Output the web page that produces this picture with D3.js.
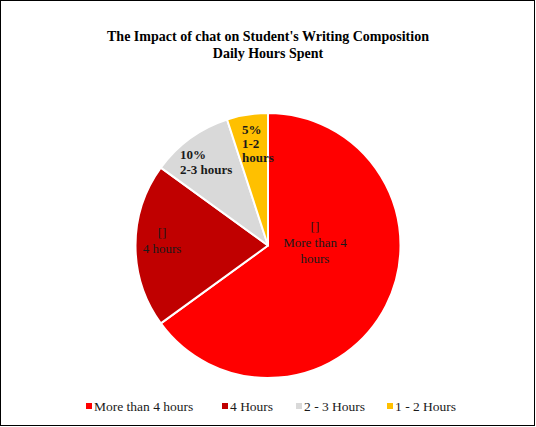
<!DOCTYPE html>
<html><head><meta charset="utf-8">
<script src="https://cdn.jsdelivr.net/npm/d3@7"></script>
<style>html,body{margin:0;padding:0;background:#fff;}svg{display:block;}</style>
</head><body>
<script>
const categories = ["More than 4 hours", "4 Hours", "2 - 3 Hours", "1 - 2 Hours"];
const values = [65, 20, 10, 5];
const colors = ["#FF0000", "#C00000", "#D9D9D9", "#FFC000"];
const labelLines = [["[]", "More than 4", "hours"], ["[]", "4 hours"], ["10%", "2-3 hours"], ["5%", "1-2", "hours"]];
const labelBold = [false, false, true, true];
const titleLines = ["The Impact of chat on Student's Writing Composition", "Daily Hours Spent"];

const W = 536, H = 427;
const font = "'Liberation Serif', 'DejaVu Serif', serif";
const svg = d3.select("body").append("svg").attr("width", W).attr("height", H);
svg.append("rect").attr("x", 0.5).attr("y", 0.5).attr("width", W - 2).attr("height", H - 2)
  .attr("fill", "#fff").attr("stroke", "#000").attr("stroke-width", 1);

svg.append("g").selectAll("text").data(titleLines).join("text")
  .attr("x", 268).attr("y", (d, i) => 41 + i * 17)
  .attr("text-anchor", "middle").attr("font-family", font).attr("font-weight", "bold")
  .attr("font-size", 14).attr("fill", "#000").text(d => d);

const cx = 268, cy = 245.5, R = 132.5;
const pie = d3.pie().sort(null).value(d => d);
const arcs = pie(values);
const arc = d3.arc().innerRadius(0).outerRadius(R);
const g = svg.append("g").attr("transform", `translate(${cx},${cy})`);
g.selectAll("path").data(arcs).join("path")
  .attr("d", arc).attr("fill", (d, i) => colors[i])
  .attr("stroke", "#fff").attr("stroke-width", 2).attr("stroke-linejoin", "round");

// label placement: centroid on a label ring, then nudge
const labelRadius = [0.55, 0.72, 0.8, 0.87];
const nudge = [[-18, -36.5], [-10.6, -5.5], [-25.7, 1.8], [-8, 11.4]];
const lineH = [16, 16, 15, 14];
const anchors = ["middle", "middle", "start", "start"];
arcs.forEach((a, i) => {
  const la = d3.arc().innerRadius(R * labelRadius[i]).outerRadius(R * labelRadius[i]);
  const c = la.centroid(a);
  const lines = labelLines[i];
  const x0 = c[0] + nudge[i][0], y0 = c[1] + nudge[i][1];
  const t = g.append("text").attr("text-anchor", anchors[i]).attr("font-family", font)
    .attr("font-size", 13).attr("font-weight", labelBold[i] ? "bold" : "normal").attr("fill", "#1a1a1a");
  lines.forEach((ln, j) => {
    t.append("tspan").attr("x", x0).attr("y", y0 + (j - (lines.length - 1) / 2) * lineH[i] + 4.5).text(ln);
  });
});

// legend
const legX = [86, 222, 296, 387];
const leg = svg.append("g");
categories.forEach((c, i) => {
  leg.append("rect").attr("x", legX[i]).attr("y", 403).attr("width", 6).attr("height", 6).attr("fill", colors[i]);
  leg.append("text").attr("x", legX[i] + 8).attr("y", 411).attr("font-family", font).attr("font-size", 13.5)
    .attr("fill", "#1a1a1a").text(c);
});
</script>
</body></html>
